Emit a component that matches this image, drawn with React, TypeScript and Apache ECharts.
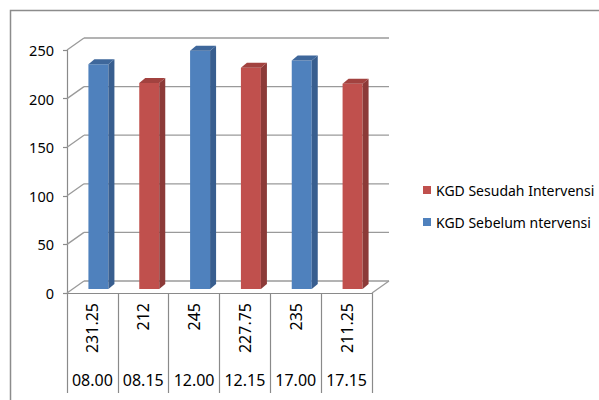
import React, { useEffect, useRef } from "react";
import * as echarts from "echarts";

const categories = ["08.00", "08.15", "12.00", "12.15", "17.00", "17.15"];
const sebelum: (number | null)[] = [231.25, null, 245, null, 235, null];
const sesudah: (number | null)[] = [null, 212, null, 227.75, null, 211.25];
const tableValues = ["231.25", "212", "245", "227.75", "235", "211.25"];
const yTicks = [0, 50, 100, 150, 200, 250];

const NAME_SEBELUM = "KGD Sebelum ntervensi";
const NAME_SESUDAH = "KGD Sesudah Intervensi";

const FONT = "Noto Sans";
const AXIS_GRAY = "#8a8a8a";

function toPairs(arr: (number | null)[]) {
  const out: number[][] = [];
  arr.forEach((v, i) => {
    if (v !== null) out.push([i, v]);
  });
  return out;
}

const DX = 17;
const DY = 12;

function renderBar(front: string, side: string, topc: string) {
  return (params: any, api: any) => {
    const idx = api.value(0);
    const v = api.value(1);
    const top = api.coord([idx, v]);
    const base = api.coord([idx, 0]);
    const cx = top[0] + 6;
    const w = 20;
    const xl = cx - w / 2;
    const xr = cx + w / 2;
    const yt = top[1] - 4;
    const yb = base[1] - 4;
    const dx = 6;
    const dy = 5;
    return {
      type: "group",
      children: [
        {
          type: "rect",
          shape: { x: xl, y: yt, width: w, height: yb - yt },
          style: { fill: front },
        },
        {
          type: "polygon",
          shape: { points: [[xr, yt], [xr + dx, yt - dy], [xr + dx, yb - dy], [xr, yb]] },
          style: { fill: side },
        },
        {
          type: "polygon",
          shape: { points: [[xl, yt], [xl + dx, yt - dy], [xr + dx, yt - dy], [xr, yt]] },
          style: { fill: topc },
        },
      ],
    };
  };
}

function renderWall(params: any, api: any) {
  const v = api.value(1);
  const p = api.coord([0, v]);
  const cs = params.coordSys;
  const x0 = cs.x;
  const x1 = cs.x + cs.width;
  const y = p[1];
  const style = { stroke: "#9a9a9a", lineWidth: 1.3, fill: null };
  const children: any[] = [
    { type: "line", shape: { x1: x0, y1: y, x2: x0 + DX, y2: y - DY }, style },
    { type: "line", shape: { x1: x0 + DX, y1: y - DY, x2: x1 + DX, y2: y - DY }, style },
  ];
  if (v === 0) {
    children.push({ type: "line", shape: { x1: x1, y1: y, x2: x1 + DX, y2: y - DY }, style });
  }
  return { type: "group", children };
}

export default function App() {
  const ref = useRef<HTMLDivElement>(null);
  useEffect(() => {
    if (!ref.current) return;
    const chart = echarts.init(ref.current, null, { renderer: "svg" });
    chart.setOption({
      animation: false,
      backgroundColor: "#ffffff",
      textStyle: { fontFamily: FONT },
      graphic: [
        {
          type: "rect",
          shape: { x: 10.5, y: 10.5, width: 700, height: 500 },
          style: { fill: null, stroke: "#8c8c8c", lineWidth: 1.5 },
          silent: true,
        },
      ],
      grid: { left: 67, right: 227, top: 50, bottom: 107, containLabel: false },
      legend: {
        orient: "vertical",
        left: 423,
        top: 183,
        padding: 0,
        itemWidth: 8,
        itemHeight: 8,
        itemGap: 18,
        textStyle: { fontFamily: FONT, fontSize: 14, color: "#000" },
        data: [
          { name: NAME_SESUDAH, icon: "rect" },
          { name: NAME_SEBELUM, icon: "rect" },
        ],
      },
      xAxis: [
        {
          type: "category",
          data: categories,
          position: "bottom",
          axisLine: { show: true, lineStyle: { color: AXIS_GRAY, width: 1.2 } },
          axisTick: { show: true, length: 100, lineStyle: { color: AXIS_GRAY, width: 1.2 } },
          axisLabel: { margin: 79, fontSize: 16, color: "#000", fontFamily: FONT, interval: 0 },
          splitLine: { show: false },
        },
        {
          type: "category",
          data: categories,
          position: "bottom",
          offset: 0,
          axisLine: { show: false },
          axisTick: { show: false },
          axisLabel: {
            margin: 10,
            rotate: 90,
            fontSize: 16,
            color: "#000",
            fontFamily: FONT,
            interval: 0,
            formatter: (_v: string, i: number) => tableValues[i],
          },
          splitLine: { show: false },
        },
      ],
      yAxis: {
        type: "value",
        min: 0,
        max: 250,
        interval: 50,
        axisLine: { show: true, lineStyle: { color: AXIS_GRAY, width: 1.2 } },
        axisTick: { show: true, length: 4, lineStyle: { color: AXIS_GRAY, width: 1.2 } },
        axisLabel: { margin: 13, fontSize: 14.5, color: "#000", fontFamily: FONT },
        splitLine: { show: false },
      },
      series: [
        {
          type: "custom",
          name: "walls",
          silent: true,
          xAxisIndex: 0,
          z: 1,
          renderItem: renderWall,
          encode: { x: 0, y: 1 },
          data: yTicks.map((v) => [0, v]),
        },
        {
          type: "custom",
          name: NAME_SESUDAH,
          xAxisIndex: 0,
          z: 3,
          itemStyle: { color: "#C0504D" },
          renderItem: renderBar("#C0504D", "#8C3A38", "#A2423F"),
          encode: { x: 0, y: 1 },
          data: toPairs(sesudah),
        },
        {
          type: "custom",
          name: NAME_SEBELUM,
          xAxisIndex: 0,
          z: 3,
          itemStyle: { color: "#4F81BD" },
          renderItem: renderBar("#4F81BD", "#385E8F", "#3E679B"),
          encode: { x: 0, y: 1 },
          data: toPairs(sebelum),
        },
      ],
    });
    return () => chart.dispose();
  }, []);
  return (
    <div
      ref={ref}
      style={{ position: "fixed", left: 0, top: 0, width: 599, height: 400 }}
    />
  );
}
